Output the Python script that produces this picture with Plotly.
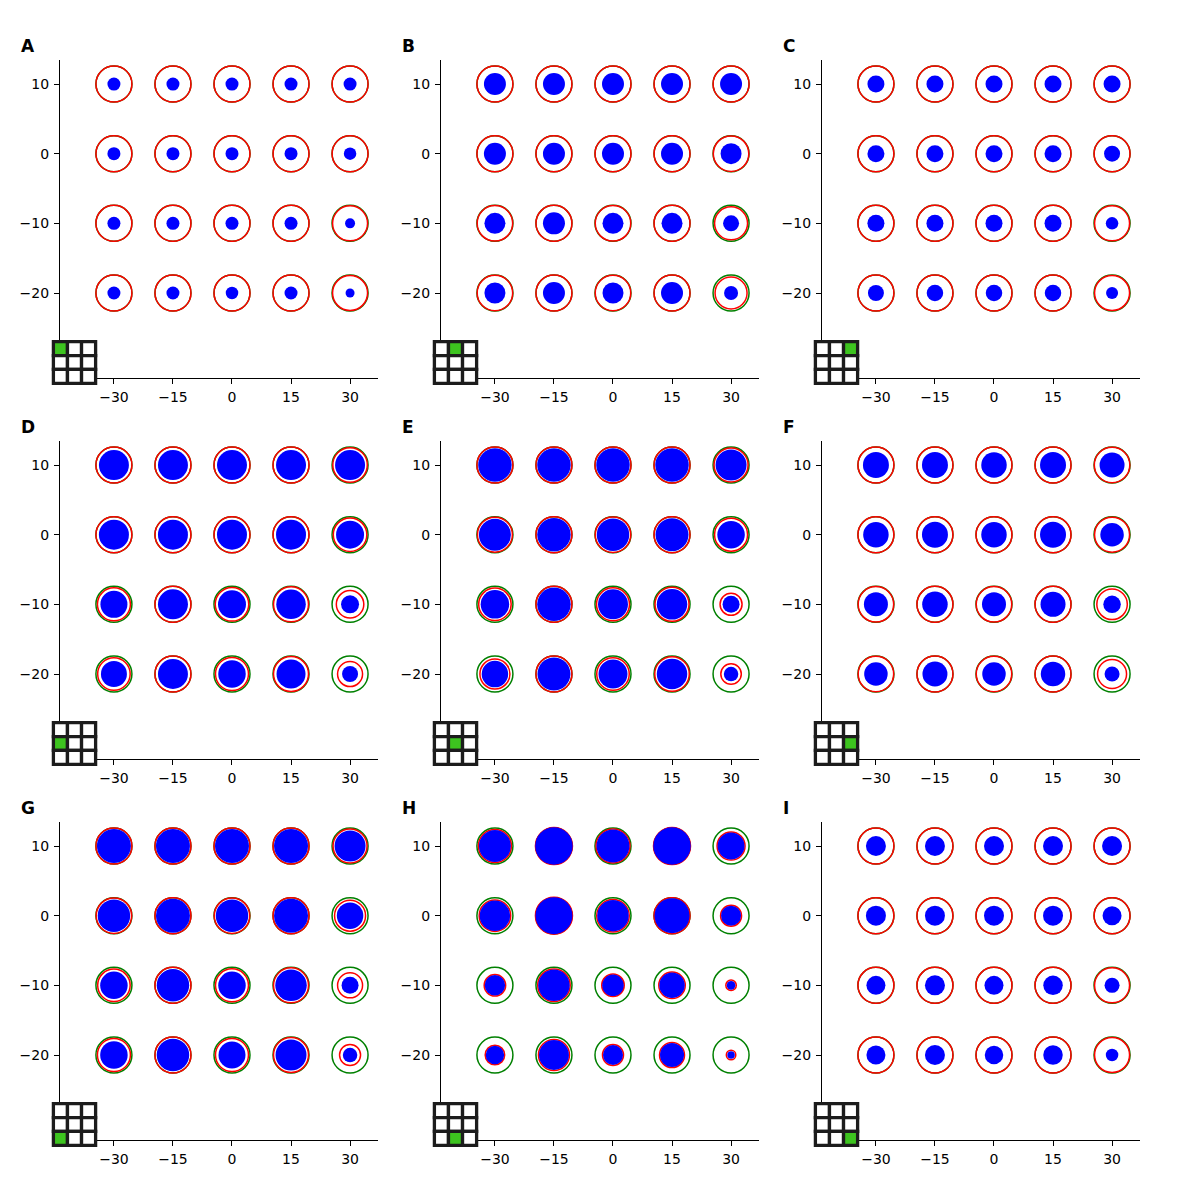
import plotly.graph_objects as go

# ---------------- data ----------------
xs = [-30, -15, 0, 15, 30]
ys = [10, 0, -10, -20]
panel_labels = ["A", "B", "C", "D", "E", "F", "G", "H", "I"]
x_ticks = [-30, -15, 0, 15, 30]
y_ticks = [-20, -10, 0, 10]

# reference (green) circle diameter, same for every point
green_diam = 36

# red circle diameters: rows y=10,0,-10,-20 ; cols x=-30..30
red_diam = {
    "A": [[36, 36, 36, 36, 36], [36, 36, 36, 36, 36], [36, 36, 36, 36, 35], [36, 36, 36, 36, 35]],
    "B": [[36, 36, 36, 36, 36], [36, 36, 36, 36, 35.5], [35.5, 36, 35.5, 36, 33], [35.5, 36, 35.5, 36, 32]],
    "C": [[36, 36, 36, 36, 36], [36, 36, 36, 36, 36], [36, 36, 36, 36, 35], [36, 36, 36, 36, 35]],
    "D": [[36, 36, 36, 36, 34.5], [36, 36, 36, 36, 33.5], [33, 36, 33.5, 35, 27.5], [32.5, 36, 33, 35, 25]],
    "E": [[36, 36, 36, 36, 34], [35, 36, 35.5, 36, 33], [32.5, 36, 33, 34, 22], [30, 36, 32.5, 34.5, 20.5]],
    "F": [[36, 36, 36, 36, 35.5], [36, 36, 36, 36, 35], [35.5, 36, 35.5, 36, 30.5], [35.5, 36, 35.5, 36, 29]],
    "G": [[36, 36, 36, 36, 34], [35.5, 36, 35.5, 36, 31], [32.5, 36, 33, 35, 25], [33, 36, 33, 35, 21]],
    "H": [[33, 37, 34, 37, 28], [31.5, 37, 32.5, 36, 21], [21.5, 32.5, 22.5, 26.5, 10.5], [19.5, 31, 21, 25, 9.5]],
    "I": [[36, 36, 36, 36, 36], [36, 36, 36, 36, 36], [36, 36, 36, 36, 35], [36, 36, 36, 36, 35]],
}

# blue filled circle diameters
blue_diam = {
    "A": [[13, 13, 13, 13, 13], [13, 13, 13, 13, 12.5], [13, 13, 13, 13, 10], [13, 13, 12.5, 13, 9]],
    "B": [[22, 22, 22, 22, 22], [22, 22, 22, 22, 21], [21, 22, 21, 21, 16], [21, 22, 21, 22, 14]],
    "C": [[17, 17, 17, 17, 17], [17, 17, 17, 17, 16], [17, 17, 17, 17, 12.5], [16, 16.5, 16.5, 16.5, 12]],
    "D": [[30, 30, 30, 30, 30], [30, 30, 30, 30, 28], [27, 30, 28, 29.5, 18], [26, 30, 27.5, 29, 16]],
    "E": [[33.5, 33.5, 33.5, 33.5, 31], [32, 33.5, 32.5, 33, 27.5], [28.5, 33.5, 30, 30.5, 17], [26.5, 33, 29, 30.5, 14.5]],
    "F": [[26, 26, 25.5, 26, 25], [25.5, 26, 25.5, 26, 23.5], [24, 25.5, 24, 25, 17.5], [23.5, 25, 23.5, 24.5, 15]],
    "G": [[34, 34, 34, 34, 31], [32.5, 34, 32.5, 34, 26.5], [27.5, 32.5, 27.5, 31.5, 17], [27.5, 32.5, 27, 31, 14.5]],
    "H": [[32, 37.5, 33, 37.5, 27], [30.5, 37, 31.5, 35, 20], [20.5, 31.5, 21.5, 25.5, 8.7], [18.5, 30, 20, 24, 7.5]],
    "I": [[20, 20, 20, 20, 20], [20, 20, 20, 20, 19], [19, 20, 19, 19.5, 15], [19, 20, 18.5, 19.5, 12.5]],
}

# ---------------- layout constants ----------------
W = 1200
AX = 318          # axes size in px
STEP = 381        # distance between panel origins in px
ORIGIN = 60
X_RANGE = [-43.7, 37.1]
Y_RANGE = [-32.2, 13.45]
INSET_GREEN = "#3dc41f"
INSET_EDGE = "#1c1c1c"

fig = go.Figure()
shapes = []
annotations = []
layout_axes = {}

for i, lab in enumerate(panel_labels):
    r, c = divmod(i, 3)
    left = ORIGIN + c * STEP
    top = ORIGIN + r * STEP
    n = "" if i == 0 else str(i + 1)
    xa, ya = "x" + n, "y" + n

    px, py, gs, rs, bs = [], [], [], [], []
    for ri, yv in enumerate(ys):
        for ci, xv in enumerate(xs):
            px.append(xv)
            py.append(yv)
            gs.append(green_diam)
            rs.append(red_diam[lab][ri][ci])
            bs.append(blue_diam[lab][ri][ci])

    fig.add_trace(go.Scatter(x=px, y=py, mode="markers", xaxis=xa, yaxis=ya,
                             marker=dict(size=gs, color="rgba(0,0,0,0)", opacity=1,
                                         line=dict(color="green", width=1.5)),
                             showlegend=False, hoverinfo="skip", cliponaxis=False))
    fig.add_trace(go.Scatter(x=px, y=py, mode="markers", xaxis=xa, yaxis=ya,
                             marker=dict(size=rs, color="rgba(0,0,0,0)", opacity=1,
                                         line=dict(color="red", width=1.5)),
                             showlegend=False, hoverinfo="skip", cliponaxis=False))
    fig.add_trace(go.Scatter(x=px, y=py, mode="markers", xaxis=xa, yaxis=ya,
                             marker=dict(size=bs, color="blue", opacity=1, line=dict(width=0)),
                             showlegend=False, hoverinfo="skip", cliponaxis=False))

    common = dict(showline=True, linecolor="black", linewidth=1.1, mirror=False,
                  ticks="outside", ticklen=5, tickwidth=1.1, tickcolor="black",
                  showgrid=False, zeroline=False, fixedrange=True,
                  tickfont=dict(family="DejaVu Sans", size=14, color="black"))
    layout_axes["xaxis" + n] = dict(domain=[left / W, (left + AX) / W], range=X_RANGE,
                                    tickvals=x_ticks, anchor=ya, ticklabelstandoff=1, **common)
    layout_axes["yaxis" + n] = dict(domain=[1 - (top + AX) / W, 1 - top / W], range=Y_RANGE,
                                    tickvals=y_ticks, anchor=xa, ticklabelstandoff=2, **common)

    annotations.append(dict(text=lab, xref="paper", yref="paper",
                            x=(left - 41) / W, y=1 - (top - 14) / W,
                            xanchor="left", yanchor="middle", showarrow=False,
                            font=dict(family="DejaVu Sans", size=17, color="black", weight="bold")))

    # 3x3 position inset
    il = left - 6.6
    ib = top + AX + 5.3
    cell_w = 14.07
    cell_h = 13.87
    itop = ib - 3 * cell_h
    for rr in range(3):
        for cc in range(3):
            x0 = il + cc * cell_w
            y0 = itop + rr * cell_h
            shapes.append(dict(type="rect", xref="paper", yref="paper", layer="above",
                               x0=x0 / W, x1=(x0 + cell_w) / W,
                               y0=1 - y0 / W, y1=1 - (y0 + cell_h) / W,
                               fillcolor=INSET_GREEN if (rr, cc) == (r, c) else "white",
                               line=dict(color=INSET_EDGE, width=3.3)))

fig.update_layout(width=W, height=W, autosize=False,
                  margin=dict(l=0, r=0, t=0, b=0),
                  paper_bgcolor="white", plot_bgcolor="white",
                  shapes=shapes, annotations=annotations, **layout_axes)

fig.write_html("out.html")
